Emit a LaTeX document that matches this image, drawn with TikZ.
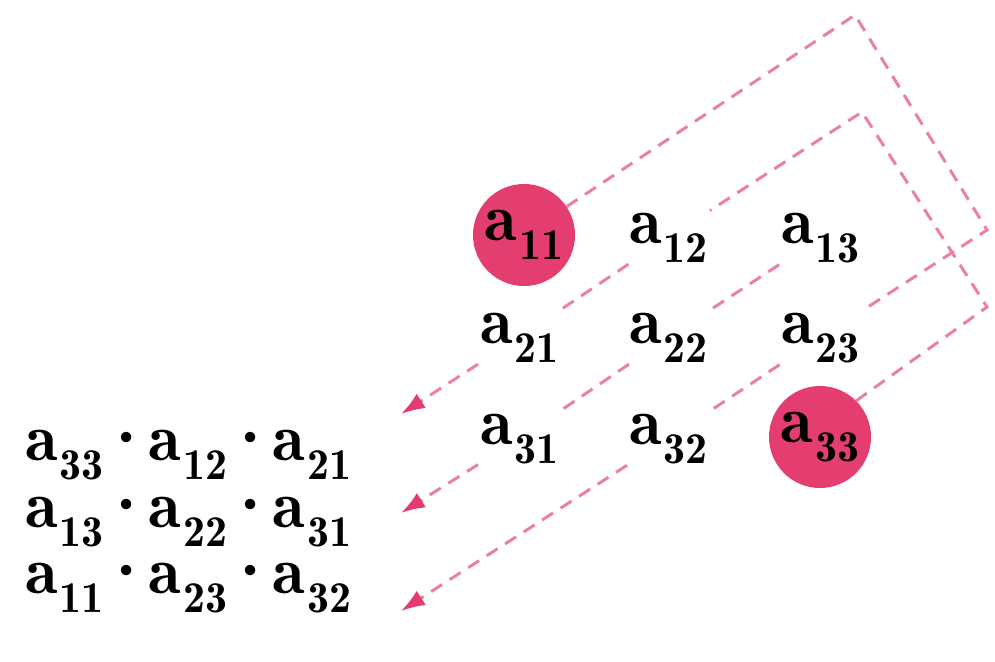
\documentclass[tikz,border=0pt]{standalone}
\usetikzlibrary{arrows.meta}
\definecolor{circpink}{RGB}{228,62,112}
\definecolor{linepink}{RGB}{234,128,162}
\definecolor{tippink}{RGB}{226,60,110}
\newcommand\ent[1]{\fontsize{67}{80}\fontseries{b}\selectfont a\kern2pt\raisebox{-19pt}{\fontsize{44}{50}\selectfont #1}}
\newcommand\pdot{{\fontsize{67}{80}\fontseries{b}\selectfont\hspace{-3pt}\textperiodcentered\hspace{-4pt}}}
\tikzset{
  entry/.style={inner sep=2pt, anchor=base west, text=black},
  hot/.style={circle, fill=circpink, minimum size=102pt, inner sep=0pt, text=black},
  prod/.style={inner sep=0pt, anchor=base west, text=black},
  dline/.style={draw=linepink, line width=3pt, dash pattern=on 13pt off 9pt,
    -{Latex[length=24pt,width=17pt,color=tippink]}},
}
\begin{document}
\begin{tikzpicture}[x=1pt,y=-1pt]
\useasboundingbox (0,0) rectangle (995,661);
% matrix
\node[hot] (a11) at (524,235) {\ent{11}};
\node[entry] (a12) at (627,243) {\ent{12}};
\node[entry] (a13) at (779,243) {\ent{13}};
\node[entry] (a21) at (478,343) {\ent{21}};
\node[entry] (a22) at (627,343) {\ent{22}};
\node[entry] (a23) at (779,343) {\ent{23}};
\node[entry] (a31) at (478,444) {\ent{31}};
\node[entry] (a32) at (627,444) {\ent{32}};
\node[hot] (a33) at (820,437) {\ent{33}};
% products
\node[prod] (p1) at (25,460) {\ent{33}\pdot\ent{12}\pdot\ent{21}};
\node[prod] (p2) at (25,527) {\ent{13}\pdot\ent{22}\pdot\ent{31}};
\node[prod] (p3) at (25,593) {\ent{11}\pdot\ent{23}\pdot\ent{32}};
% corners and tips
\coordinate (c3a) at (855,15);
\coordinate (c3b) at (987,230);
\coordinate (c1a) at (862,112);
\coordinate (c1b) at (987,307);
\coordinate (tip1) at (401,414);
\coordinate (tip2) at (401,513);
\coordinate (tip3) at (401,611);
% dashed paths
\draw[dline] (a33.45) -- (c1b) -- (c1a) -- (a12) -- (a21) -- (tip1);
\draw[dline] (a13) -- (a22) -- (a31) -- (tip2);
\draw[dline] (a11) -- (c3a) -- (c3b) -- (a23) -- (a32) -- (tip3);
\end{tikzpicture}
\end{document}
